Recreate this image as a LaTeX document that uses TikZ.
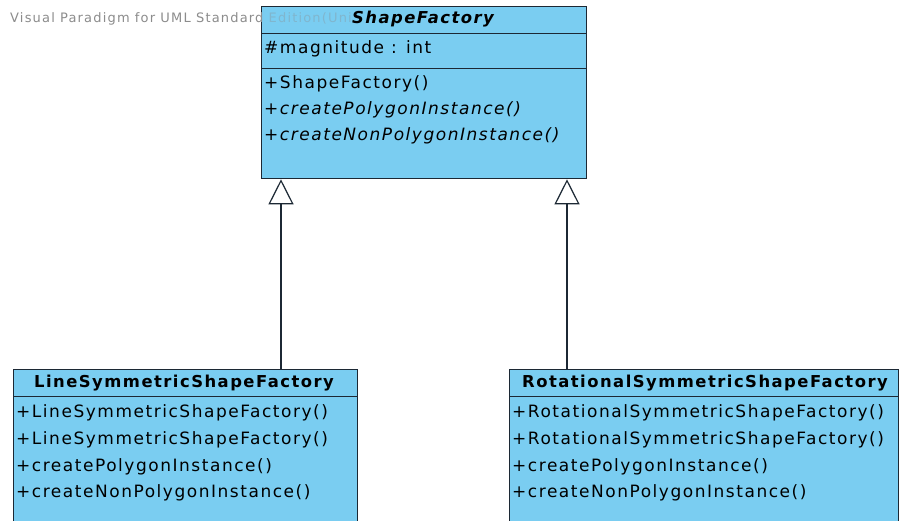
\documentclass[tikz,border=0pt]{standalone}
\usepackage{fontspec}
\setmainfont[LetterSpace=9]{DejaVu Sans}
\usetikzlibrary{arrows.meta}
\definecolor{umlfill}{RGB}{122,205,241}
\definecolor{umlline}{RGB}{28,40,52}
\definecolor{vpgray}{RGB}{140,140,140}
\newcommand{\umlfont}{\fontsize{17}{19}\selectfont}
\tikzset{classbox/.style={draw=umlline,fill=umlfill,line width=1.3pt,anchor=north west,inner sep=0pt},
	classname/.style={font=\fontsize{16.4}{19}\selectfont\bfseries,inner sep=0pt},
	member/.style={anchor=west,font=\umlfont,inner sep=0pt},
	inherit/.style={draw=umlline,line width=1.2pt,-{Triangle[open,length=25pt,width=25pt]}}}
\begin{document}
\begin{tikzpicture}[x=1pt,y=-1pt]
		\clip (0,0) rectangle (899,521);
		\fill[white] (0,0) rectangle (899,521);
		
		% ShapeFactory
		\node[classbox,minimum width=325pt,minimum height=27pt] (sfname) at (261,6) {};
		\node[classbox,minimum width=325pt,minimum height=35pt] (sfattr) at (261,33) {};
		\node[classbox,minimum width=325pt,minimum height=110pt] (sfops) at (261,68) {};
		\node[classname] (sft) at (423,19) {\itshape ShapeFactory};
		\node[member] (sfa1) at (264,49) {\#magnitude : int};
		\node[member] (sfo1) at (264,84) {+ShapeFactory()};
		\node[member] (sfo2) at (264,110) {\itshape +createPolygonInstance()};
		\node[member] (sfo3) at (264,136) {\itshape +createNonPolygonInstance()};
		
		% LineSymmetricShapeFactory
		\node[classbox,minimum width=344pt,minimum height=27pt] (lsfname) at (13,369) {};
		\node[classbox,minimum width=344pt,minimum height=140pt] (lsfops) at (13,396) {};
		\node[classname] (lsft) at (184,383) {LineSymmetricShapeFactory};
		\node[member] (lsfo1) at (16,413) {+LineSymmetricShapeFactory()};
		\node[member] (lsfo2) at (16,440) {+LineSymmetricShapeFactory()};
		\node[member] (lsfo3) at (16,467) {+createPolygonInstance()};
		\node[member] (lsfo4) at (16,493) {+createNonPolygonInstance()};
		
		% RotationalSymmetricShapeFactory
		\node[classbox,minimum width=389pt,minimum height=27pt] (rsfname) at (509,369) {};
		\node[classbox,minimum width=389pt,minimum height=140pt] (rsfops) at (509,396) {};
		\node[classname] (rsft) at (705,383) {RotationalSymmetricShapeFactory};
		\node[member] (rsfo1) at (512,413) {+RotationalSymmetricShapeFactory()};
		\node[member] (rsfo2) at (512,440) {+RotationalSymmetricShapeFactory()};
		\node[member] (rsfo3) at (512,467) {+createPolygonInstance()};
		\node[member] (rsfo4) at (512,493) {+createNonPolygonInstance()};
		
		% generalisation
		\coordinate (lx) at (281,0);
		\coordinate (rx) at (567,0);
		\draw[inherit] (lsfname.north -| lx) -- (sfops.south -| lx);
		\draw[inherit] (rsfname.north -| rx) -- (sfops.south -| rx);
		
		\node[anchor=west,inner sep=0pt,font=\fontsize{13}{15}\selectfont,text=vpgray] (vp) at (10,19) {Visual Paradigm for UML Standard {\color{vpgray!35!umlfill}Edition(Uni}};
		\end{tikzpicture}
\end{document}
